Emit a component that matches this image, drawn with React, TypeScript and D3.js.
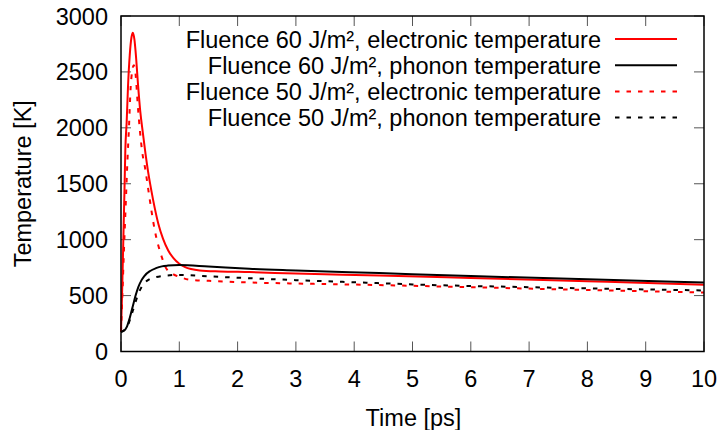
import React, { useEffect, useRef } from "react";
import * as d3 from "d3";

// time [ps] and temperature [K]
const elec60T = [0, 0.02, 0.04, 0.06, 0.074, 0.097, 0.12, 0.15, 0.18, 0.205, 0.23, 0.26, 0.29, 0.33, 0.376, 0.42, 0.47, 0.52, 0.58, 0.64, 0.72, 0.81, 0.9, 1.0, 1.1, 1.2, 1.35, 1.7, 2.2, 3, 4.43, 6, 8, 10];
const elec60 = [175, 550, 1000, 1450, 1800, 2050, 2366, 2650, 2810, 2850, 2790, 2620, 2400, 2150, 1950, 1770, 1590, 1441, 1280, 1143, 1010, 904, 835, 785, 755, 738, 725, 716, 710, 697, 680, 658, 628, 597];

const phon60T = [0, 0.05, 0.1, 0.15, 0.2, 0.25, 0.3, 0.35, 0.4, 0.5, 0.6, 0.7, 0.8, 1.0, 1.5, 2.2, 3, 4.43, 6, 8, 10];
const phon60 = [175, 185, 220, 300, 400, 500, 580, 636, 675, 720, 745, 761, 768, 773, 760, 740, 725, 701, 675, 645, 618];

const elec50T = [0, 0.02, 0.05, 0.08, 0.11, 0.137, 0.166, 0.19, 0.22, 0.25, 0.29, 0.36, 0.42, 0.47, 0.58, 0.7, 0.78, 0.9, 1.0, 1.18, 1.64, 2.15, 3, 4.43, 6, 8, 10];
const elec50 = [175, 450, 900, 1300, 1700, 2008, 2366, 2500, 2560, 2480, 2187, 1800, 1620, 1441, 1083, 844, 740, 690, 668, 642, 629, 618, 608, 594, 575, 550, 528];

const phon50T = [0, 0.1, 0.2, 0.3, 0.4, 0.5, 0.6, 0.8, 1.0, 1.5, 2, 3, 4.43, 5, 7, 10];
const phon50 = [175, 215, 360, 520, 610, 650, 665, 680, 685, 672, 660, 638, 611, 600, 575, 546];

const xTicks = d3.range(0, 11, 1);
const yTicks = d3.range(0, 3001, 500);

const series = [
  { label: "Fluence 60 J/m², electronic temperature", t: elec60T, v: elec60, color: "#ff0000", dash: null },
  { label: "Fluence 60 J/m², phonon temperature", t: phon60T, v: phon60, color: "#000000", dash: null },
  { label: "Fluence 50 J/m², electronic temperature", t: elec50T, v: elec50, color: "#ff0000", dash: "4.5,7" },
  { label: "Fluence 50 J/m², phonon temperature", t: phon50T, v: phon50, color: "#000000", dash: "4.5,7" },
];

const App = () => {
  const ref = useRef<SVGSVGElement>(null);

  useEffect(() => {
    const svg = d3.select(ref.current);
    svg.selectAll("*").remove();
    const width = 722;
    const height = 430;
    const left = 121;
    const right = 704;
    const top = 16;
    const bottom = 351.5;
    const font = "Liberation Sans, Arial, sans-serif";
    const fs = 23.5;

    const x = d3.scaleLinear().domain([0, 10]).range([left, right]);
    const y = d3.scaleLinear().domain([0, 3000]).range([bottom, top]);

    svg.attr("width", width).attr("height", height).attr("viewBox", [0, 0, width, height]);

    // ticks (mirrored, pointing inward)
    const ticks = svg.append("g").attr("stroke", "#555").attr("stroke-width", 1);
    xTicks.forEach((d) => {
      ticks.append("line").attr("x1", x(d)).attr("x2", x(d)).attr("y1", bottom).attr("y2", bottom - 10);
      ticks.append("line").attr("x1", x(d)).attr("x2", x(d)).attr("y1", top).attr("y2", top + 10);
    });
    yTicks.forEach((d) => {
      ticks.append("line").attr("x1", left).attr("x2", left + 10).attr("y1", y(d)).attr("y2", y(d));
      ticks.append("line").attr("x1", right).attr("x2", right - 10).attr("y1", y(d)).attr("y2", y(d));
    });

    svg
      .append("g")
      .attr("font-family", font)
      .attr("font-size", fs)
      .attr("text-anchor", "middle")
      .selectAll("text")
      .data(xTicks)
      .join("text")
      .attr("x", (d) => x(d))
      .attr("y", 387)
      .text((d) => d);

    svg
      .append("g")
      .attr("font-family", font)
      .attr("font-size", fs)
      .attr("text-anchor", "end")
      .selectAll("text")
      .data(yTicks)
      .join("text")
      .attr("x", 108)
      .attr("y", (d) => y(d) + 8.5)
      .text((d) => d);

    svg
      .append("text")
      .attr("font-family", font)
      .attr("font-size", fs)
      .attr("text-anchor", "middle")
      .attr("x", (left + right) / 2 + 1)
      .attr("y", 426)
      .text("Time [ps]");

    svg
      .append("text")
      .attr("font-family", font)
      .attr("font-size", fs)
      .attr("text-anchor", "middle")
      .attr("transform", `translate(31,${(top + bottom) / 2}) rotate(-90)`)
      .text("Temperature [K]");

    const line = d3
      .line<number>()
      .curve(d3.curveMonotoneX);

    const plot = svg.append("g");
    // draw order: dashed behind solid
    [2, 3, 0, 1].forEach((i) => {
      const s = series[i];
      plot
        .append("path")
        .attr("fill", "none")
        .attr("stroke", s.color)
        .attr("stroke-width", 2)
        .attr("stroke-dasharray", s.dash)
        .attr("d", line.x((_, j) => x(s.t[j])).y((d) => y(d))(s.v));
    });

    // legend
    const leg = svg.append("g").attr("font-family", font).attr("font-size", fs);
    series.forEach((s, i) => {
      const ly = 39 + i * 26.2;
      leg
        .append("text")
        .attr("x", 601)
        .attr("y", ly + 8.5)
        .attr("text-anchor", "end")
        .text(s.label);
      leg
        .append("line")
        .attr("x1", 615)
        .attr("x2", 677)
        .attr("y1", ly)
        .attr("y2", ly)
        .attr("stroke", s.color)
        .attr("stroke-width", 2)
        .attr("stroke-dasharray", s.dash);
    });

    svg
      .append("rect")
      .attr("x", left)
      .attr("y", top)
      .attr("width", right - left)
      .attr("height", bottom - top)
      .attr("fill", "none")
      .attr("stroke", "#000")
      .attr("stroke-width", 1.5);
  }, []);

  return <svg ref={ref} style={{ position: "absolute", left: 0, top: 0 }} />;
};

export default App;
